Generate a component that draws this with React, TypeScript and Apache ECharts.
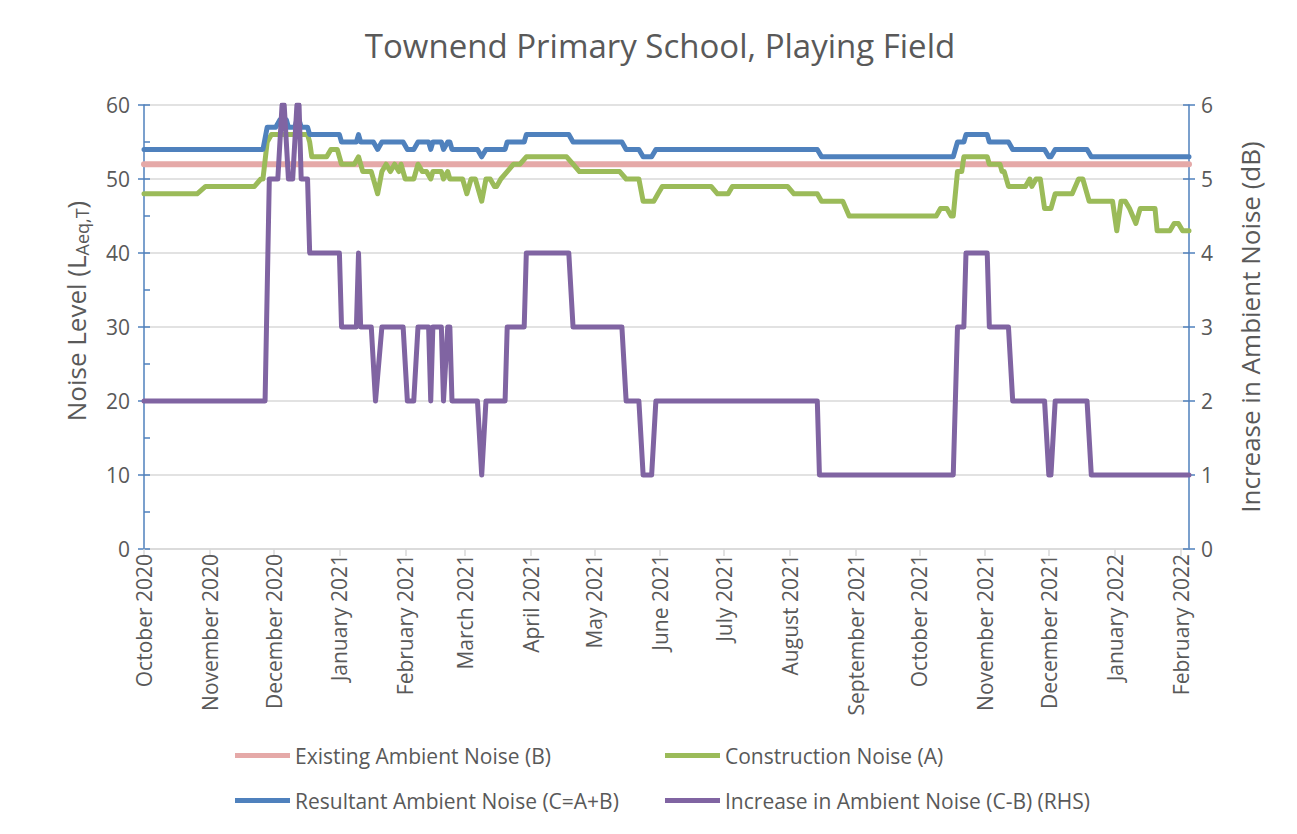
import React, { useEffect, useRef } from "react";
import * as echarts from "echarts";

const chartTitle = "Townend Primary School, Playing Field";
const leftAxisName = ["Noise Level (L", "Aeq,T", ")"];
const rightAxisName = "Increase in Ambient Noise (dB)";

const xStart = "2020-10-01";
const xEnd = "2022-02-05";
const monthTicks = [
  "2020-10-01", "2020-11-01", "2020-12-01", "2021-01-01", "2021-02-01", "2021-03-01",
  "2021-04-01", "2021-05-01", "2021-06-01", "2021-07-01", "2021-08-01", "2021-09-01",
  "2021-10-01", "2021-11-01", "2021-12-01", "2022-01-01", "2022-02-01",
];
const monthNames = [
  "January", "February", "March", "April", "May", "June",
  "July", "August", "September", "October", "November", "December",
];

const seriesNames = [
  "Existing Ambient Noise (B)",
  "Construction Noise (A)",
  "Resultant Ambient Noise (C=A+B)",
  "Increase in Ambient Noise (C-B) (RHS)",
];

const existingAmbient: [string, number][] = [
  ["2020-10-01", 52], ["2022-02-05", 52],
];

const constructionNoise: [string, number][] = [
  ["2020-10-01", 48], ["2020-10-26", 48], ["2020-10-30", 49], ["2020-11-22", 49],
  ["2020-11-25", 50], ["2020-11-26", 50], ["2020-11-28", 55], ["2020-11-30", 56],
  ["2020-12-17", 56], ["2020-12-18", 55], ["2020-12-19", 53], ["2020-12-26", 53],
  ["2020-12-28", 54], ["2020-12-31", 54], ["2021-01-02", 52], ["2021-01-08", 52],
  ["2021-01-10", 53], ["2021-01-12", 51], ["2021-01-16", 51], ["2021-01-19", 48],
  ["2021-01-21", 51], ["2021-01-23", 52], ["2021-01-25", 51], ["2021-01-27", 52],
  ["2021-01-29", 51], ["2021-01-30", 52], ["2021-02-01", 50], ["2021-02-05", 50],
  ["2021-02-07", 52], ["2021-02-09", 51], ["2021-02-11", 51], ["2021-02-13", 50],
  ["2021-02-14", 51], ["2021-02-18", 51], ["2021-02-19", 50], ["2021-02-21", 51],
  ["2021-02-22", 50], ["2021-02-28", 50], ["2021-03-02", 48], ["2021-03-04", 50],
  ["2021-03-06", 50], ["2021-03-09", 47], ["2021-03-11", 50], ["2021-03-13", 50],
  ["2021-03-15", 49], ["2021-03-16", 49], ["2021-03-18", 50], ["2021-03-21", 51],
  ["2021-03-24", 52], ["2021-03-27", 52], ["2021-03-30", 53], ["2021-04-18", 53],
  ["2021-04-21", 52], ["2021-04-24", 51], ["2021-05-13", 51], ["2021-05-16", 50],
  ["2021-05-22", 50], ["2021-05-24", 47], ["2021-05-29", 47], ["2021-05-31", 48],
  ["2021-06-02", 49], ["2021-06-25", 49], ["2021-06-28", 48], ["2021-07-03", 48],
  ["2021-07-05", 49], ["2021-07-31", 49], ["2021-08-03", 48], ["2021-08-14", 48],
  ["2021-08-16", 47], ["2021-08-26", 47], ["2021-08-29", 45], ["2021-10-09", 45],
  ["2021-10-11", 46], ["2021-10-14", 46], ["2021-10-16", 45], ["2021-10-17", 45],
  ["2021-10-19", 51], ["2021-10-21", 51], ["2021-10-22", 53], ["2021-11-02", 53],
  ["2021-11-03", 52], ["2021-11-08", 52], ["2021-11-09", 51], ["2021-11-10", 51],
  ["2021-11-12", 49], ["2021-11-20", 49], ["2021-11-22", 50], ["2021-11-23", 49],
  ["2021-11-25", 50], ["2021-11-27", 50], ["2021-11-29", 46], ["2021-12-02", 46],
  ["2021-12-04", 48], ["2021-12-12", 48], ["2021-12-15", 50], ["2021-12-17", 50],
  ["2021-12-20", 47], ["2021-12-31", 47], ["2022-01-02", 43], ["2022-01-04", 47],
  ["2022-01-06", 47], ["2022-01-08", 46], ["2022-01-11", 44], ["2022-01-13", 46],
  ["2022-01-20", 46], ["2022-01-21", 43], ["2022-01-27", 43], ["2022-01-29", 44],
  ["2022-01-31", 44], ["2022-02-02", 43], ["2022-02-05", 43],
];

const resultantNoise: [string, number][] = [
  ["2020-10-01", 54], ["2020-11-26", 54], ["2020-11-28", 57], ["2020-12-02", 57],
  ["2020-12-04", 58], ["2020-12-07", 58], ["2020-12-08", 57], ["2020-12-11", 57],
  ["2020-12-12", 58], ["2020-12-13", 58], ["2020-12-14", 57], ["2020-12-17", 57],
  ["2020-12-18", 56], ["2021-01-01", 56], ["2021-01-02", 55], ["2021-01-09", 55],
  ["2021-01-10", 56], ["2021-01-11", 55], ["2021-01-17", 55], ["2021-01-19", 54],
  ["2021-01-21", 55], ["2021-01-31", 55], ["2021-02-02", 54], ["2021-02-05", 54],
  ["2021-02-07", 55], ["2021-02-12", 55], ["2021-02-13", 54], ["2021-02-14", 55],
  ["2021-02-18", 55], ["2021-02-19", 54], ["2021-02-21", 55], ["2021-02-22", 55],
  ["2021-02-23", 54], ["2021-03-07", 54], ["2021-03-09", 53], ["2021-03-11", 54],
  ["2021-03-20", 54], ["2021-03-21", 55], ["2021-03-29", 55], ["2021-03-30", 56],
  ["2021-04-19", 56], ["2021-04-21", 55], ["2021-05-14", 55], ["2021-05-16", 54],
  ["2021-05-22", 54], ["2021-05-24", 53], ["2021-05-28", 53], ["2021-05-30", 54],
  ["2021-08-14", 54], ["2021-08-16", 53], ["2021-10-17", 53], ["2021-10-19", 55],
  ["2021-10-22", 55], ["2021-10-23", 56], ["2021-11-02", 56], ["2021-11-03", 55],
  ["2021-11-12", 55], ["2021-11-14", 54], ["2021-11-29", 54], ["2021-12-01", 53],
  ["2021-12-02", 53], ["2021-12-04", 54], ["2021-12-19", 54], ["2021-12-21", 53],
  ["2022-02-05", 53],
];

const increaseNoise: [string, number][] = [
  ["2020-10-01", 2], ["2020-11-27", 2], ["2020-11-29", 5], ["2020-12-03", 5],
  ["2020-12-05", 6], ["2020-12-06", 6], ["2020-12-08", 5], ["2020-12-10", 5],
  ["2020-12-12", 6], ["2020-12-13", 6], ["2020-12-14", 5], ["2020-12-17", 5],
  ["2020-12-18", 4], ["2021-01-01", 4], ["2021-01-02", 3], ["2021-01-09", 3],
  ["2021-01-10", 4], ["2021-01-11", 3], ["2021-01-16", 3], ["2021-01-18", 2],
  ["2021-01-21", 3], ["2021-01-31", 3], ["2021-02-02", 2], ["2021-02-05", 2],
  ["2021-02-07", 3], ["2021-02-12", 3], ["2021-02-13", 2], ["2021-02-14", 3],
  ["2021-02-18", 3], ["2021-02-19", 2], ["2021-02-21", 3], ["2021-02-22", 3],
  ["2021-02-23", 2], ["2021-03-07", 2], ["2021-03-09", 1], ["2021-03-11", 2],
  ["2021-03-20", 2], ["2021-03-21", 3], ["2021-03-29", 3], ["2021-03-30", 4],
  ["2021-04-19", 4], ["2021-04-21", 3], ["2021-05-14", 3], ["2021-05-16", 2],
  ["2021-05-22", 2], ["2021-05-24", 1], ["2021-05-28", 1], ["2021-05-30", 2],
  ["2021-08-14", 2], ["2021-08-15", 1], ["2021-10-17", 1], ["2021-10-19", 3],
  ["2021-10-22", 3], ["2021-10-23", 4], ["2021-11-02", 4], ["2021-11-03", 3],
  ["2021-11-12", 3], ["2021-11-14", 2], ["2021-11-29", 2], ["2021-12-01", 1],
  ["2021-12-02", 1], ["2021-12-04", 2], ["2021-12-19", 2], ["2021-12-21", 1],
  ["2022-02-05", 1],
];

const FONT = "Open Sans";
const TEXT = "#595959";
const AXIS_BLUE = "#4F81BD";
const GRID_GRAY = "#D9D9D9";
const colors = ["#E5A9A8", "#9BBB59", "#4F81BD", "#8064A2"];

const toTime = (s: string) => echarts.time.parse(s).getTime();

export default function App() {
  const ref = useRef<HTMLDivElement>(null);

  useEffect(() => {
    if (!ref.current) return;
    const chart = echarts.init(ref.current, undefined, { renderer: "svg" });
    const tickValues = monthTicks.map(toTime);
    const fmt = (v: number) => {
      const d = new Date(v);
      return `${monthNames[d.getMonth()]} ${d.getFullYear()}`;
    };
    const lineSeries = (i: number, data: [string, number][], yAxisIndex: number, width: number) => ({
      name: seriesNames[i],
      type: "line",
      data: data.map(([s, v]) => [toTime(s), v]),
      yAxisIndex,
      showSymbol: false,
      symbol: "none",
      silent: true,
      color: colors[i],
      lineStyle: { color: colors[i], width, cap: "round", join: "round" },
      z: 2 + i,
    });
    const legendItem = (i: number, left: number, top: number) => ({
      data: [seriesNames[i]],
      left,
      top,
      padding: 0,
      icon: "rect",
      itemWidth: 55,
      itemHeight: 5,
      selectedMode: false,
      textStyle: { color: TEXT, fontSize: 21, fontFamily: FONT },
    });

    chart.setOption({
      animation: false,
      backgroundColor: "#ffffff",
      textStyle: { fontFamily: FONT },
      title: {
        text: chartTitle,
        left: 660,
        top: 29,
        padding: 0,
        textAlign: "center",
        textStyle: { color: TEXT, fontSize: 33, fontWeight: "normal", fontFamily: FONT },
      },
      grid: { left: 144, right: 108, top: 105, bottom: 285, containLabel: false },
      legend: [
        legendItem(0, 235, 745),
        legendItem(1, 665, 745),
        legendItem(2, 235, 790),
        legendItem(3, 665, 790),
      ],
      xAxis: {
        type: "value",
        min: toTime(xStart),
        max: toTime(xEnd),
        axisLine: { show: true, lineStyle: { color: GRID_GRAY, width: 1.5 } },
        axisTick: { show: true, length: 7, customValues: tickValues, lineStyle: { color: GRID_GRAY, width: 1.5 } },
        axisLabel: {
          customValues: tickValues,
          rotate: 90,
          margin: 5,
          color: TEXT,
          fontSize: 21,
          fontFamily: FONT,
          formatter: (v: number) => fmt(v),
        },
        splitLine: { show: false },
      },
      yAxis: [
        {
          type: "value",
          min: 0,
          max: 60,
          interval: 10,
          position: "left",
          axisLine: { show: true, lineStyle: { color: AXIS_BLUE, width: 1.5 } },
          axisTick: { show: true, inside: true, length: 6, lineStyle: { color: AXIS_BLUE, width: 1.5 } },
          minorTick: { show: true, splitNumber: 2, length: 6, lineStyle: { color: AXIS_BLUE, width: 1.5 } },
          axisLabel: { color: TEXT, fontSize: 21, fontFamily: FONT, margin: 14 },
          splitLine: { show: true, lineStyle: { color: GRID_GRAY, width: 1.5 } },
        },
        {
          type: "value",
          min: 0,
          max: 6,
          interval: 1,
          position: "right",
          axisLine: { show: true, lineStyle: { color: AXIS_BLUE, width: 1.5 } },
          axisTick: { show: true, inside: true, length: 6, lineStyle: { color: AXIS_BLUE, width: 1.5 } },
          axisLabel: { color: TEXT, fontSize: 21, fontFamily: FONT, margin: 12 },
          splitLine: { show: false },
        },
        {
          type: "value",
          min: 0,
          max: 60,
          interval: 10,
          position: "left",
          axisLine: { show: false },
          axisTick: { show: true, inside: false, length: 6, lineStyle: { color: AXIS_BLUE, width: 1.5 } },
          axisLabel: { show: false },
          splitLine: { show: false },
        },
        {
          type: "value",
          min: 0,
          max: 6,
          interval: 1,
          position: "right",
          axisLine: { show: false },
          axisTick: { show: true, inside: false, length: 6, lineStyle: { color: AXIS_BLUE, width: 1.5 } },
          axisLabel: { show: false },
          splitLine: { show: false },
        },
      ],
      graphic: [
        {
          type: "text",
          x: 76,
          y: 311,
          rotation: Math.PI / 2,
          silent: true,
          style: {
            text: `{n|${leftAxisName[0]}}{s|${leftAxisName[1]}}{n|${leftAxisName[2]}}`,
            align: "center",
            verticalAlign: "middle",
            fill: TEXT,
            rich: {
              n: { fontSize: 26, fontFamily: FONT, fill: TEXT, lineHeight: 30, verticalAlign: "middle" },
              s: { fontSize: 18, fontFamily: FONT, fill: TEXT, lineHeight: 16, verticalAlign: "bottom" },
            },
          },
        },
        {
          type: "text",
          x: 1250,
          y: 327,
          rotation: Math.PI / 2,
          silent: true,
          style: {
            text: rightAxisName,
            align: "center",
            verticalAlign: "middle",
            fill: TEXT,
            fontSize: 26,
            fontFamily: FONT,
          },
        },
      ],
      series: [
        lineSeries(0, existingAmbient, 0, 6),
        lineSeries(1, constructionNoise, 0, 5),
        lineSeries(2, resultantNoise, 0, 5),
        lineSeries(3, increaseNoise, 1, 5),
      ],
    });
    return () => chart.dispose();
  }, []);

  return (
    <div
      ref={ref}
      style={{ position: "fixed", left: 0, top: 0, width: 1297, height: 834, background: "#fff" }}
    />
  );
}
